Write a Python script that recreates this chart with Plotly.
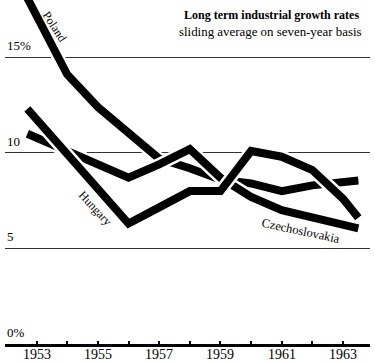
import plotly.graph_objects as go

# ---- data ----
years = [1952.7, 1954, 1955, 1956, 1957, 1958, 1959, 1960, 1961, 1962, 1963, 1963.5]
poland = [18.1, 14.1, 12.4, 11.1, 9.7, 9.2, 8.6, 8.4, 8.0, 8.3, 8.5, 8.55]
czechoslovakia = [11.0, 10.1, 9.4, 8.7, 9.4, 10.2, 8.7, 7.7, 7.0, 6.6, 6.25, 6.05]
hungary = [12.3, 9.9, 8.1, 6.3, 7.15, 8.0, 8.0, 10.1, 9.8, 9.1, 7.6, 6.6]

tick_years = list(range(1953, 1964))
label_years = [1953, 1955, 1957, 1959, 1961, 1963]
grid_values = [5, 10, 15]
grid_labels = ["5", "10", "15%"]

title_bold = "Long term industrial growth rates"
title_sub = "sliding average on seven-year basis"

FONT = "Liberation Serif, Times New Roman, serif"

fig = go.Figure()

# draw order: Poland bottom, Czechoslovakia middle, Hungary top (white halo for crossings)
for name, vals in [("Poland", poland), ("Czechoslovakia", czechoslovakia), ("Hungary", hungary)]:
    fig.add_trace(go.Scatter(x=years, y=vals, mode="lines",
                             line=dict(color="white", width=13),
                             hoverinfo="skip", showlegend=False))
    fig.add_trace(go.Scatter(x=years, y=vals, mode="lines", name=name,
                             line=dict(color="black", width=8),
                             showlegend=False))

annotations = []
for v, t in zip(grid_values + [0], grid_labels + ["0%"]):
    annotations.append(dict(x=0, xref="paper", y=v, yref="y", text=t,
                            showarrow=False, xanchor="left", yanchor="bottom",
                            yshift=2, font=dict(family=FONT, size=13, color="black")))

# x tick labels (odd years)
for yr in label_years:
    annotations.append(dict(x=yr, xref="x", y=0, yref="y", text=str(yr),
                            showarrow=False, xanchor="center", yanchor="top",
                            yshift=-1, font=dict(family=FONT, size=14, color="black")))

annotations.append(dict(x=(182 - 5) / 365, xref="paper", y=17.22, yref="y",
                        text=title_bold, showarrow=False,
                        xanchor="left", yanchor="middle",
                        font=dict(family=FONT, size=12, weight="bold", color="black")))
annotations.append(dict(x=(364 - 5) / 365, xref="paper", y=16.3, yref="y",
                        text=title_sub, showarrow=False,
                        xanchor="right", yanchor="middle",
                        font=dict(family=FONT, size=12.9, color="black")))

# series labels
annotations.append(dict(x=1953.6, y=16.6, text="Poland", textangle=57, showarrow=False,
                        font=dict(family=FONT, size=12, color="black")))
annotations.append(dict(x=1954.9, y=7.1, text="Hungary", textangle=47, showarrow=False,
                        font=dict(family=FONT, size=12, color="black")))
annotations.append(dict(x=1961.63, y=5.9, text="Czechoslovakia", textangle=12, showarrow=False,
                        font=dict(family=FONT, size=12.5, color="black")))

fig.update_layout(
    width=375, height=363,
    margin=dict(l=5, r=5, t=0, b=19),
    paper_bgcolor="white", plot_bgcolor="white",
    annotations=annotations,
    xaxis=dict(range=[1951.97, 1963.88], tickvals=tick_years,
               showticklabels=False,
               ticks="inside", ticklen=3, tickwidth=2, tickcolor="black",
               showline=True, linecolor="black", linewidth=2.5,
               showgrid=False, zeroline=False),
    yaxis=dict(range=[0, 18], tickvals=grid_values, showticklabels=False,
               showgrid=True, gridcolor="#333333", gridwidth=1,
               zeroline=False, showline=False, ticks=""),
)

fig.write_html("out.html", config={"displayModeBar": False},
               post_script="document.body.style.margin='0';document.body.style.overflow='hidden';")
